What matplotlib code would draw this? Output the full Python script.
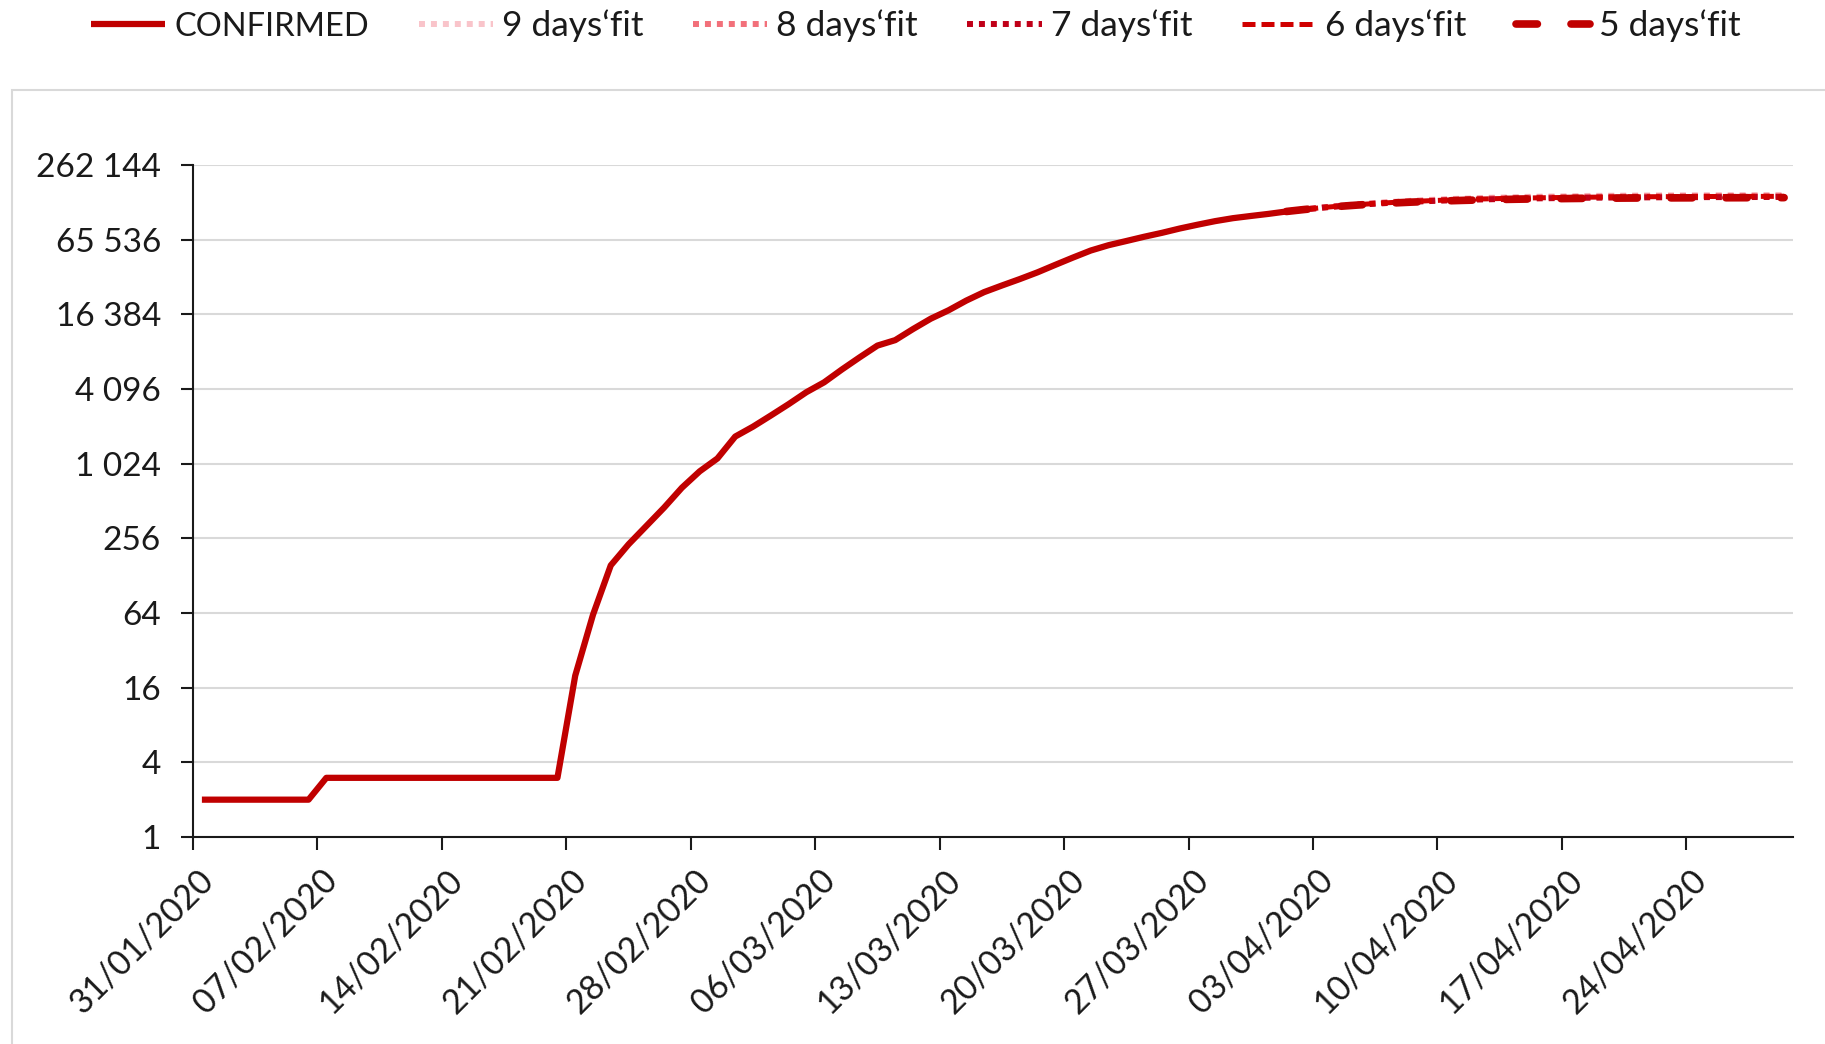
import matplotlib
matplotlib.use('Agg')
import matplotlib.pyplot as plt
import matplotlib.ticker as mticker
import matplotlib.dates as mdates
from matplotlib.transforms import ScaledTranslation
from matplotlib.patches import Rectangle
import pandas as pd

plt.rcParams['font.family'] = ['Lato', 'DejaVu Sans']

# ---------------- data ----------------
confirmed_start = '2020-01-31'
confirmed = [2, 2, 2, 2, 2, 2, 2,
             3, 3, 3, 3, 3, 3, 3, 3, 3, 3, 3, 3, 3, 3,
             20, 62, 155, 229, 322, 453, 655, 888, 1128,
             1694, 2036, 2502, 3089, 3858, 4636, 5883, 7375, 9172, 10149,
             12462, 15113, 17660, 21157, 24747, 27980, 31506, 35713, 41035, 47021,
             53578, 59138, 63927, 69176, 74386, 80589, 86498, 92472, 97689, 101739,
             105792, 110574]

fit_start = '2020-04-01'
fit_9 = [110600, 115100, 119300, 123100, 126500, 129600, 132400, 134900, 137100, 139000,
         140700, 142200, 143500, 144600, 145600, 146400, 147100, 147700, 148200, 148600,
         149000, 149300, 149500, 149700, 149900, 150000, 150100, 150200, 150300]
fit_8 = [110600, 115000, 119000, 122600, 125900, 128800, 131400, 133700, 135700, 137500,
         139000, 140300, 141500, 142500, 143400, 144100, 144700, 145200, 145700, 146100,
         146400, 146700, 146900, 147100, 147300, 147400, 147500, 147600, 147700]
fit_7 = [110600, 114800, 118600, 122000, 125100, 127800, 130200, 132300, 134100, 135700,
         137100, 138300, 139300, 140200, 141000, 141600, 142200, 142700, 143100, 143400,
         143700, 143900, 144100, 144300, 144400, 144500, 144600, 144700, 144800]
fit_6 = [110600, 114900, 118800, 122300, 125500, 128300, 130800, 133000, 135000, 136700,
         138200, 139500, 140600, 141600, 142400, 143100, 143700, 144200, 144600, 145000,
         145300, 145600, 145800, 146000, 146100, 146200, 146300, 146400, 146500]
fit_5 = [110600, 114700, 118400, 121700, 124600, 127200, 129500, 131500, 133200, 134700,
         136000, 137100, 138100, 138900, 139600, 140200, 140700, 141100, 141500, 141800,
         142000, 142200, 142400, 142500, 142600, 142700, 142800, 142900, 143000]

confirmed_label = 'CONFIRMED'
fit_labels = ['9 days\u2018fit', '8 days\u2018fit', '7 days\u2018fit', '6 days\u2018fit', '5 days\u2018fit']

x_start = '2020-01-31'
x_end = '2020-04-30'
x_tick_first = '2020-01-31'
x_tick_last = '2020-04-24'
y_ticks = [1, 4, 16, 64, 256, 1024, 4096, 16384, 65536, 262144]

# ---------------- figure ----------------
W, H = 1825, 1044
fig = plt.figure(figsize=(W / 100, H / 100), dpi=100)
fig.patch.set_facecolor('white')

# outer chart-area border
fig.patches.append(Rectangle((12 / W, -0.05), 1.2, (1 - 90 / H) + 0.05,
                             transform=fig.transFigure, fill=False,
                             edgecolor='#d9d9d9', lw=1.5, zorder=0))

ax = fig.add_axes([193 / W, 207 / H, 1600 / W, 672 / H])

half_day = pd.Timedelta(hours=12)
conf_dates = pd.date_range(confirmed_start, periods=len(confirmed), freq='D') + half_day
fit_dates = pd.date_range(fit_start, periods=len(fit_9), freq='D') + half_day

red = '#c00000'
ax.plot(conf_dates, confirmed, color=red, lw=4.5, solid_joinstyle='round',
        solid_capstyle='butt', zorder=3, label=confirmed_label)

styles = [
    dict(color='#f9c4ca', lw=4.3, dashes=(1, 1), dash_capstyle='butt'),
    dict(color='#f2707a', lw=4.3, dashes=(1, 1), dash_capstyle='butt'),
    dict(color='#c00018', lw=4.3, dashes=(1, 1), dash_capstyle='butt'),
    dict(color='#d00000', lw=3.6, dashes=(2.6, 1.2), dash_capstyle='butt'),
    dict(color=red, lw=5.5, dashes=(2.8, 4.4), dash_capstyle='round'),
]
for vals, lab, st in zip([fit_9, fit_8, fit_7, fit_6, fit_5], fit_labels, styles):
    ax.plot(fit_dates, vals, label=lab, zorder=4, **st)

# y axis
ax.set_yscale('log', base=2)
ax.set_ylim(y_ticks[0], y_ticks[-1])
ax.yaxis.set_major_locator(mticker.FixedLocator(y_ticks))
ax.yaxis.set_minor_locator(mticker.NullLocator())
ax.yaxis.set_major_formatter(mticker.FuncFormatter(lambda v, p: f"{int(round(v)):,}".replace(',', ' ')))

# x axis
ax.set_xlim(pd.Timestamp(x_start), pd.Timestamp(x_end))
ax.set_xticks(pd.date_range(x_tick_first, x_tick_last, freq='7D'))
ax.xaxis.set_major_formatter(mdates.DateFormatter('%d/%m/%Y'))
ax.xaxis.set_minor_locator(mticker.NullLocator())

ax.grid(axis='y', color='#d9d9d9', lw=1.5)
ax.set_axisbelow(True)
for s in ['top', 'right']:
    ax.spines[s].set_visible(False)
for s in ['left', 'bottom']:
    ax.spines[s].set_color('#1a1a1a')
    ax.spines[s].set_linewidth(1.5)

ax.tick_params(axis='y', direction='out', length=9, width=1.5, color='#1a1a1a',
               labelsize=24, labelcolor='#1a1a1a', pad=14)
ax.tick_params(axis='x', direction='out', length=9, width=1.5, color='#1a1a1a',
               labelsize=24.5, labelcolor='#1a1a1a', pad=18)

offset = ScaledTranslation(15 / 100, 0, fig.dpi_scale_trans)
for lbl in ax.get_xticklabels():
    lbl.set_rotation(45)
    lbl.set_rotation_mode('anchor')
    lbl.set_ha('right')
    lbl.set_va('center')
    lbl.set_transform(lbl.get_transform() + offset)

handles, labels = ax.get_legend_handles_labels()
leg = fig.legend(handles, labels, loc='center left', bbox_to_anchor=(91 / W, 1 - 26 / H),
                 ncol=6, frameon=False, fontsize=25.5, handlelength=2.1,
                 handletextpad=0.25, columnspacing=1.4, borderaxespad=0, borderpad=0)
for i, t in enumerate(leg.get_texts()):
    t.set_color('#1a1a1a')
    if i == 0:
        t.set_fontsize(23.5)

fig.savefig('out.png', dpi=100, facecolor='white')
